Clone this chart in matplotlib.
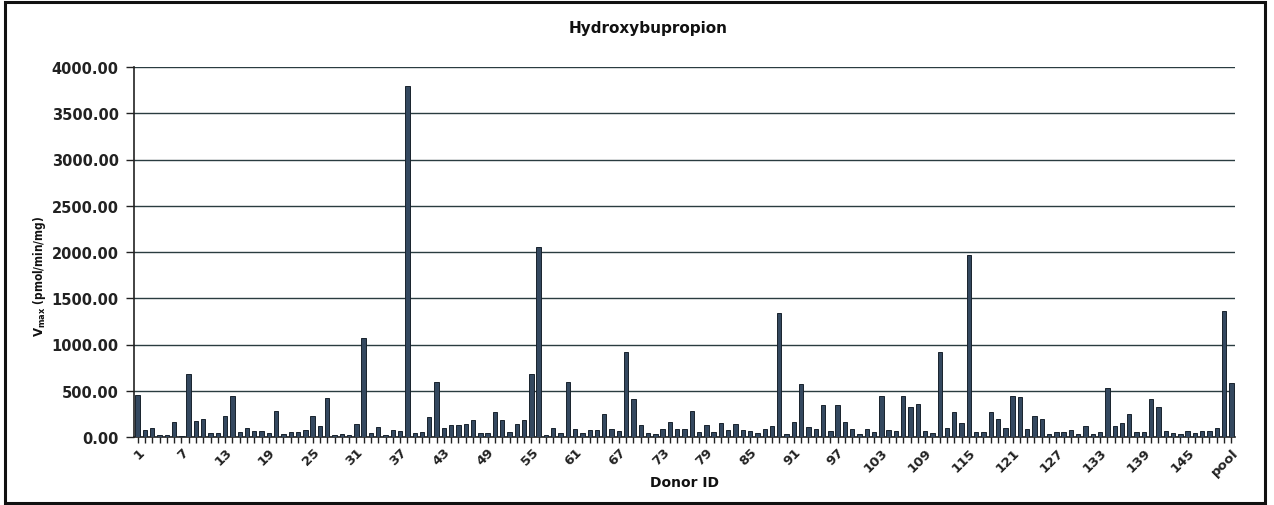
import matplotlib
matplotlib.use("Agg")
import matplotlib.pyplot as plt
from matplotlib.patches import Rectangle

donors = [str(i) for i in range(1, 151)] + ["pool"]
vmax = [
    450, 75, 100, 20, 20, 160, 10, 680, 170, 190,
    40, 40, 225, 445, 50, 100, 60, 68, 43, 285,
    32, 50, 50, 75, 225, 120, 418, 18, 32, 25,
    143, 1065, 40, 110, 25, 78, 68, 3800, 43, 54,
    214, 590, 96, 128, 128, 139, 182, 40, 43, 275,
    189, 54, 139, 189, 680, 2050, 25, 100, 43, 596,
    89, 40, 71, 71, 250, 82, 64, 917, 407, 125,
    46, 29, 82, 160, 89, 89, 282, 57, 125, 57,
    153, 71, 136, 71, 68, 40, 86, 114, 1340, 32,
    160, 571, 104, 89, 346, 61, 346, 160, 89, 32,
    89, 57, 446, 71, 61, 446, 325, 357, 61, 43,
    917, 96, 268, 150, 1970, 50, 50, 268, 193, 96,
    446, 428, 89, 225, 193, 29, 54, 54, 75, 32,
    118, 32, 50, 532, 118, 150, 246, 54, 54, 414,
    325, 64, 40, 32, 64, 43, 64, 64, 96, 1360,
    589,
]
y_ticks = [0, 500, 1000, 1500, 2000, 2500, 3000, 3500, 4000]

W, H = 1274, 506
fig = plt.figure(figsize=(W / 100, H / 100), dpi=100)
fig.patch.set_facecolor("white")

# outer chart frame
fig.patches.append(Rectangle((5 / W, 2 / H), 1260 / W, 501 / H,
                             transform=fig.transFigure, fill=False,
                             edgecolor="#111111", linewidth=2.2))

ax = fig.add_axes([134 / W, 68 / H, 1101 / W, 370 / H])
positions = list(range(1, len(donors) + 1))
ax.bar(positions, vmax, width=0.6, color="#34485f", edgecolor="#18222c",
       linewidth=0.7, zorder=3)

ax.set_xlim(0.5, len(donors) + 0.5)
ax.set_ylim(0, 4000)
ax.set_yticks(y_ticks)
ax.set_yticklabels([f"{v:.2f}" for v in y_ticks], fontsize=10.5,
                   fontweight="bold", color="#222222")
ax.yaxis.grid(True, color="#2a3c40", linewidth=1.0, zorder=1)
ax.set_axisbelow(True)

ax.set_xticks(positions, minor=True)
ax.set_xticks(positions[::6])
ax.set_xticklabels(donors[::6], rotation=45, ha="right", va="top",
                   rotation_mode="anchor", fontsize=9.5, fontweight="bold",
                   color="#222222")
ax.tick_params(axis="x", which="both", length=4, width=1, color="#222222",
               direction="out", pad=2)
ax.tick_params(axis="y", length=6, width=1, color="#222222", pad=5)

for side in ("top", "right"):
    ax.spines[side].set_visible(False)
for side in ("left", "bottom"):
    ax.spines[side].set_color("#222222")
    ax.spines[side].set_linewidth(1.2)

fig.text(40 / W, 1 - 276 / H, r"$\mathbf{V_{max}}$ (pmol/min/mg)",
         rotation=90, ha="center", va="center", fontsize=8.5,
         fontweight="bold", fontstretch="condensed", color="#111111")
fig.text(685 / W, 1 - 483 / H, "Donor ID", ha="center", va="center",
         fontsize=10, fontweight="bold", color="#111111")
fig.text(648 / W, 1 - 28 / H, "Hydroxybupropion", ha="center",
         va="center", fontsize=11, fontweight="bold", color="#111111")

fig.savefig("out.png", dpi=100, facecolor="white")
